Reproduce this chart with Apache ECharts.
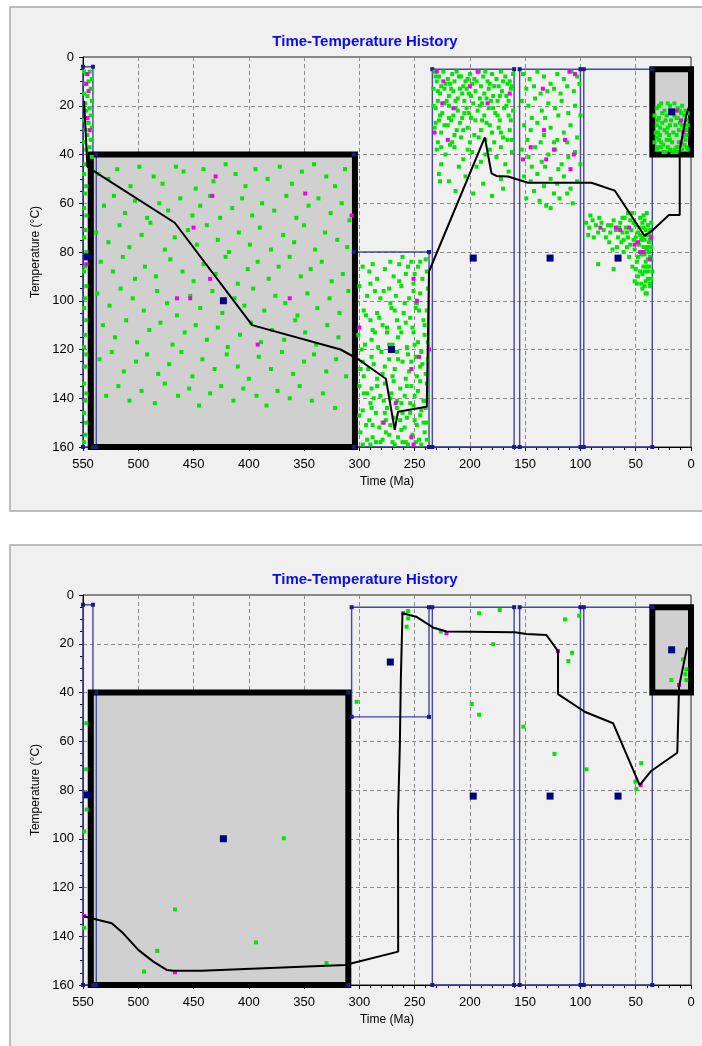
<!DOCTYPE html>
<html><head><meta charset="utf-8">
<script src="https://cdn.jsdelivr.net/npm/echarts@6/dist/echarts.min.js"></script>
<style>html,body{margin:0;padding:0;background:#fff}#c{width:702px;height:1046px}</style>
</head><body><div id="c"></div>
<script>
// ---------- shared ----------
const titleText = 'Time-Temperature History';
const xName = 'Time (Ma)';
const yName = 'Temperature (\u00B0C)';
const timeMin = 0, timeMax = 550, timeStep = 50;
const tempMin = 0, tempMax = 160, tempStep = 20;

// ---------- panel 1 ----------
// boxes: [tOld, tYoung, Ttop, Tbottom]
const p1GrayBoxes = [[543,304,40,160],[35,0,5,40]];
const p1BlueBoxes = [[550,541,4,160],[538,305,40,160],[305,237,80,160],[234,160,5,160],[155,100,5,160],[97,35,5,160]];
const p1Centers = [546,82, 423,100, 271,120, 197,82.5, 127.5,82.5, 66,82.5, 17.5,22.5];
const p1Path = [549,18, 546,45, 543,46, 467,68, 397,110, 317,120, 301,124, 276,132, 268,153, 265,145.5, 239,143.5, 237,88, 186.5,33, 180.5,47.7, 176,48.8, 165.5,49, 147.5,51.6, 90,51.6, 69,54.8, 42,73.4, 34.5,71, 20,64.8, 10.2,64.8, 10.2,38.2, 4.2,23.8, 1.5,20];
const p1GreenA = [549,6, 547,7, 544,6, 542,9, 548,11, 545,10, 543,13, 549,15, 546,16, 542,18, 548,19, 544,21, 547,22, 543,24, 549,26, 545,27, 542,29, 548,30, 546,32, 543,34, 549,35, 544,37, 547,38, 542,41, 548,44, 549,48, 547,53, 548,56, 549,62, 547,65, 548,71, 549,74, 547,80, 548,86, 549,88, 547,94, 548,99, 549,103, 547,108, 548,114, 549,119, 547,122, 548,127, 549,134, 547,138, 548,141, 549,146, 547,150, 548,155, 549,158];
const p1GreenB = [536,48, 527,50, 519,46, 507,53, 499,45, 486,49, 478,52, 466,45, 459,47, 448,54, 441,46, 432,51, 421,44, 412,48, 403,53, 394,46, 383,50, 372,45, 361,52, 352,47, 341,44, 330,49, 322,53, 313,46,
 531,61, 522,57, 512,64, 503,59, 492,66, 481,60, 473,63, 462,58, 451,65, 444,61, 435,57, 426,66, 415,62, 406,58, 397,65, 388,60, 377,63, 366,57, 357,66, 346,61, 337,58, 326,64, 316,60, 309,67,
 538,72, 527,76, 517,69, 508,78, 497,73, 489,68, 476,79, 467,74, 455,71, 447,77, 438,69, 428,75, 418,80, 409,72, 399,77, 390,70, 380,79, 369,73, 359,76, 350,69, 340,79, 331,72, 320,75, 311,78,
 534,84, 523,88, 514,82, 503,91, 494,86, 484,90, 471,83, 460,88, 450,92, 441,85, 430,89, 421,82, 410,93, 401,87, 392,84, 382,91, 373,86, 363,82, 353,90, 344,87, 334,84, 325,92, 315,89,
 537,97, 526,102, 516,95, 505,99, 495,104, 483,96, 474,101, 465,106, 453,98, 444,103, 433,96, 424,105, 413,99, 404,102, 396,95, 386,104, 376,98, 367,101, 356,106, 347,97, 338,103, 327,99, 318,105, 310,96,
 532,110, 521,115, 511,108, 501,117, 490,112, 480,109, 469,118, 458,113, 448,110, 438,116, 428,111, 419,119, 408,114, 398,109, 389,117, 379,112, 368,116, 358,108, 349,113, 339,118, 329,110, 319,115,
 535,124, 524,121, 513,129, 502,125, 492,122, 482,130, 472,126, 461,121, 451,131, 442,124, 431,128, 420,122, 410,127, 400,132, 391,123, 380,128, 370,121, 360,130, 350,125, 341,122, 330,129, 321,124, 312,131,
 529,139, 518,135, 508,141, 497,137, 485,142, 476,134, 464,139, 454,136, 445,143, 435,138, 425,135, 414,141, 405,136, 393,139, 384,143, 374,137, 363,140, 354,135, 343,141, 333,138, 322,144];
const p1GreenC = [240,83, 247,86, 253,84, 258,89, 264,85, 269,90, 277,87, 284,91, 291,88, 243,91, 250,89, 261,82, 297,86,
 238,95, 245,97, 251,93, 255,99, 262,94, 267,98, 273,95, 281,99, 286,96, 293,98, 300,94, 248,101, 259,101, 272,101,
 239,104, 242,108, 249,103, 254,107, 260,105, 266,108, 271,103, 279,110, 284,105, 290,108, 296,104, 252,111, 264,111, 275,111, 288,112, 241,110,
 241,114, 247,117, 251,113, 257,119, 265,115, 270,118, 275,113, 283,119, 289,116, 295,118, 301,114, 244,121, 256,122, 280,121, 266,121,
 238,124, 245,127, 249,123, 255,129, 261,125, 268,128, 273,124, 279,130, 287,126, 292,128, 297,125, 248,131, 258,132, 270,131, 284,132, 296,131, 240,130,
 239,134, 247,137, 253,135, 259,139, 263,136, 271,138, 277,134, 281,139, 289,136, 293,138, 300,135, 242,141, 254,142, 266,141, 278,141, 290,142, 238,139,
 240,144, 245,147, 251,143, 257,148, 261,146, 269,148, 275,144, 279,150, 285,146, 291,149, 297,145, 248,151, 259,152, 272,151, 282,152, 294,151, 242,150,
 241,154, 246,157, 252,155, 258,158, 265,156, 270,158, 276,154, 281,158, 288,156, 293,157, 299,154, 244,159, 256,159, 268,159, 279,157, 290,159, 262,153,
 245,84, 256,86, 272,84, 288,85, 239,88, 251,96, 264,92, 278,96, 290,93, 246,104, 258,109, 268,104, 282,107, 294,106, 238,117, 250,118, 262,113, 273,118, 286,113, 298,120,
 243,126, 253,125, 265,124, 277,127, 289,123, 299,128, 245,133, 257,135, 269,133, 284,135, 296,138, 240,141, 250,139, 262,142, 272,140, 287,140, 244,145, 254,146, 266,144, 277,146,
 289,144, 300,147, 239,150, 250,149, 263,149, 276,149, 288,151, 239,157, 249,158, 261,158, 273,155, 285,158, 297,159];
const p1GreenD = [232,6, 228,8, 224,6, 220,9, 216,7, 212,6, 208,8, 204,10, 200,7, 196,9, 192,6, 188,8, 184,10, 180,7, 176,9, 172,6, 168,8, 164,10, 230,10, 222,11, 214,10, 206,12, 198,11, 190,12, 182,11, 174,12, 166,11, 161,7,
 233,13, 227,15, 223,13, 219,16, 215,14, 211,17, 207,15, 203,13, 199,16, 195,14, 191,17, 187,15, 183,13, 179,16, 175,18, 171,14, 167,16, 163,13, 229,18, 221,18, 213,18, 205,18, 197,19, 189,19, 181,18,
 231,21, 225,23, 219,20, 215,24, 211,22, 203,21, 199,25, 193,22, 187,24, 183,21, 177,23, 173,26, 169,21, 165,24, 161,22, 228,26, 217,26, 207,25, 195,26, 185,27,
 232,29, 226,31, 220,28, 212,30, 208,33, 202,29, 196,32, 190,30, 186,34, 180,31, 174,29, 170,33, 164,30, 229,35, 216,35, 200,35, 178,35, 162,34,
 230,38, 222,40, 214,37, 206,42, 198,39, 190,43, 182,38, 176,41, 168,44, 162,39, 226,44, 210,45, 194,45,
 228,48, 219,51, 204,49, 188,52, 172,50, 165,47, 213,55, 197,56, 180,57, 170,54, 227,51,
 231,8, 226,12, 218,11, 210,8, 202,9, 194,10, 186,6, 178,12, 170,10, 162,12, 229,14, 217,13, 209,13, 201,15, 185,17, 173,16, 165,18, 233,20, 223,19, 213,21, 205,23, 191,20, 179,21, 167,20,
 227,24, 219,25, 209,27, 201,23, 189,26, 175,24, 163,26, 231,27, 223,28, 214,32, 206,30, 192,33, 182,28, 172,31, 166,34, 226,37, 218,36, 202,38, 186,40, 172,37];
const p1GreenE = [152,7, 146,9, 139,6, 133,8, 127,11, 121,7, 115,9, 108,6, 103,8, 149,13, 142,12, 136,15, 130,14, 124,13, 118,15, 112,12, 106,14, 101,11,
 153,18, 147,20, 141,17, 135,22, 129,19, 123,21, 117,18, 111,23, 105,20, 100,24, 144,25, 132,25, 120,24,
 151,28, 145,30, 139,27, 133,32, 127,29, 121,34, 115,31, 109,28, 103,33, 148,34, 136,35, 124,35, 112,35,
 153,38, 147,41, 141,37, 135,43, 129,40, 123,38, 117,44, 111,41, 105,39, 100,44, 144,45, 132,45, 120,46,
 151,49, 145,51, 139,48, 133,53, 127,50, 121,52, 115,49, 109,54, 103,51, 142,55, 124,56, 112,56,
 149,58, 137,59, 131,61, 119,58, 107,60, 127,62];
const p1GreenF = [95,68, 92,70, 89,67, 93,73, 86,69, 84,72, 81,68, 88,74, 79,71, 83,66, 77,74, 75,69, 91,65, 73,72, 70,67, 74,76, 71,79, 68,71, 66,74,
 64,68, 62,72, 60,66, 63,76, 59,70, 57,74, 55,67, 61,80, 58,78, 56,82, 54,71, 52,75, 53,64, 50,69, 51,79, 49,84, 48,72, 47,77, 46,66, 45,81, 44,74,
 43,70, 42,67, 41,78, 40,73, 39,69, 38,76, 37,82, 43,86, 41,84, 39,88, 38,80, 37,71, 42,75, 40,64, 39,91, 37,94, 38,86, 41,92, 36,78, 36,68, 44,89, 42,81, 40,79, 43,65, 39,83, 37,75,
 46,88, 48,90, 44,95, 40,97, 45,93, 50,87, 53,86, 84,85, 70,87, 51,92, 41,97, 37,93,
 47,70, 45,75, 43,78, 41,71, 40,86, 38,73, 36,83, 44,68, 42,88, 39,78, 46,73, 48,82, 50,74, 52,68, 55,77, 57,64, 35,88, 36,91, 42,94, 49,93, 58,72, 61,75, 65,70, 62,66, 67,78, 72,69];
const p1GreenG = [31,21, 27,19, 24,22, 19,20, 15,19, 12,21, 8,20, 5,22,
 33,24, 29,25, 22,24, 17,23, 13,25, 9,23, 4,26,
 31,28, 26,27, 21,29, 18,26, 14,28, 10,27, 6,29, 3,28,
 32,31, 28,32, 24,30, 20,32, 16,31, 11,30, 7,33,
 33,35, 29,34, 25,36, 22,34, 17,35, 13,37, 9,35, 5,34,
 31,38, 27,37, 23,39, 19,38, 15,38, 12,39, 8,38, 4,37,
 29,20, 21,19, 10,22, 26,23, 15,24, 6,24, 30,26, 23,26, 12,25, 3,23, 28,29, 19,28, 8,28, 4,30, 30,31, 22,31, 13,32, 4,32,
 31,33, 27,35, 19,34, 11,35, 6,36, 30,37, 21,37, 14,39, 10,37, 3,38, 25,39, 17,39];
const p1Magenta = [546,7, 545,14, 547,11, 546,25, 544,30, 547,85,
 430,49, 433,57, 450,70, 435,91, 465,99, 453,99, 349,56, 307,65, 363,99, 392,118,
 251,91, 248,100, 237,120, 246,123, 253,128, 267,142, 278,150, 253,156, 251,159, 300,111,
 230,6, 193,6, 224,10, 200,12, 225,19, 184,19, 215,21, 164,15, 232,31, 220,34,
 134,13, 110,6, 105,7, 133,30, 114,34, 124,38, 131,42, 145,37, 152,42, 106,40, 109,46,
 82,70, 68,70, 64,71, 56,70, 51,77, 48,76, 43,80, 37,83, 36,74, 46,80,
 13,22, 9,26, 7,31, 9,35];

// ---------- panel 2 ----------
const p2GrayBoxes = [[543,310,40,160],[35,0,5,40]];
const p2BlueBoxes = [[550,541,4,160],[538,310,40,160],[307,237,5,50],[234,160,5,160],[155,100,5,160],[97,35,5,160]];
const p2Centers = [546,82, 423,100, 272,27.5, 197,82.5, 127.5,82.5, 66,82.5, 17.5,22.5];
const p2Path = [550,131.7, 536,133.3, 524,134.7, 513.6,138.8, 500,145.6, 486.4,150.4, 474.3,153.8, 468.3,154.2, 442.7,154.2, 313,151.8, 264.9,146.3, 265,89.6, 263.4,62.2, 262.5,34.9, 261,7.5, 248.6,8.9, 233.5,13.3, 221.2,15, 159.4,15.3, 148.9,16, 130.8,16.4, 120.3,23, 120.3,40.7, 96.2,47.9, 70.5,52.6, 46.4,78, 36,72.2, 12.4,64.7, 10.8,37.6, 3.6,21.5];
const p2Green = [547,52.6, 547,71.5, 546.7,88, 548.8,97, 548.8,136.5, 466.8,129, 482.8,146, 494.8,154.5, 393.6,142.5, 368.3,99.8, 329.7,151, 302.5,43.8, 255.9,6.6, 255.9,9.6, 257.3,13, 226.3,15, 191.7,7.5, 173,6.2, 179,20.2, 198.3,44.7, 191.7,49.1, 151.6,54, 114,10, 101.2,8.5, 107.6,23.7, 110.9,27.1, 123.5,65.2, 94.6,71.5, 45,69, 50.3,76.6, 49.4,79.6, 7.2,26.4, 4.2,30.5, 5.1,32.5, 17.8,34.9, 4.2,34.9];
const p2Magenta = [260.4,7.5, 221.2,15.7, 120.3,23, 45.5,78, 10.8,36.9, 548.8,131.7, 466.8,154.8];

// ---------- build ----------
function pairs(a){const r=[];for(let i=0;i<a.length;i+=2)r.push([a[i],a[i+1]]);return r;}
function corners(boxes){const r=[];boxes.forEach(b=>{r.push([b[0],b[2]],[b[1],b[2]],[b[0],b[3]],[b[1],b[3]]);});return r;}
function boxRender(kind){
  return function(params, api){
    const p1 = api.coord([api.value(0), api.value(2)]);
    const p2 = api.coord([api.value(1), api.value(3)]);
    const shape = {x:Math.min(p1[0],p2[0]), y:Math.min(p1[1],p2[1]), width:Math.abs(p2[0]-p1[0]), height:Math.abs(p2[1]-p1[1])};
    let style;
    if(kind==='fill') style = {fill:'#d0d0d0', stroke:null};
    else if(kind==='black') style = {fill:null, stroke:'#000', lineWidth:6};
    else style = {fill:null, stroke:'#4646a4', lineWidth:1.4};
    return {type:'rect', shape:shape, style:style};
  };
}

const grids=[], xAxes=[], yAxes=[], series=[], titles=[];
const fontFam = 'Liberation Sans, Arial';
function addPanel(idx, top, d){
  grids.push({left:83, top:top, width:608, height:390, show:true, borderColor:'#222', borderWidth:1, backgroundColor:'transparent'});
  xAxes.push({gridIndex:idx, type:'value', min:timeMin, max:timeMax, interval:timeStep, inverse:true,
    name:xName, nameLocation:'middle', nameGap:29, nameTextStyle:{fontSize:12, color:'#000', fontFamily:fontFam},
    axisLine:{show:true, onZero:false, lineStyle:{color:'#000', width:1}},
    axisTick:{show:true, length:4, lineStyle:{color:'#000'}},
    minorTick:{show:true, splitNumber:5, length:3, lineStyle:{color:'#000'}},
    axisLabel:{fontSize:13, color:'#000', margin:11, fontFamily:fontFam},
    splitLine:{show:true, lineStyle:{color:'#8a8a8a', width:1, type:[4,3]}}});
  yAxes.push({gridIndex:idx, type:'value', min:tempMin, max:tempMax, interval:tempStep, inverse:true,
    name:yName, nameLocation:'middle', nameGap:31, nameRotate:90, nameTextStyle:{fontSize:12, color:'#000', fontFamily:fontFam},
    axisLine:{show:true, onZero:false, lineStyle:{color:'#000', width:1}},
    axisTick:{show:true, length:4, lineStyle:{color:'#000'}},
    minorTick:{show:true, splitNumber:4, length:3, lineStyle:{color:'#000'}},
    axisLabel:{fontSize:13, color:'#000', margin:9, fontFamily:fontFam},
    splitLine:{show:true, lineStyle:{color:'#8a8a8a', width:1, type:[4,3]}}});
  const base = {xAxisIndex:idx, yAxisIndex:idx, silent:true, animation:false};
  series.push(Object.assign({type:'custom', renderItem:boxRender('fill'), encode:{x:[0,1], y:[2,3]}, data:d.gray, clip:false}, base));
  series.push(Object.assign({type:'custom', renderItem:boxRender('blue'), encode:{x:[0,1], y:[2,3]}, data:d.blue, clip:false}, base));
  series.push(Object.assign({type:'scatter', symbol:'rect', symbolSize:4, itemStyle:{color:'#1a1a8a', opacity:1}, data:corners(d.blue)}, base));
  series.push(Object.assign({type:'scatter', symbol:'rect', symbolSize:4, itemStyle:{color:'#00e600', opacity:1}, data:pairs(d.green)}, base));
  series.push(Object.assign({type:'scatter', symbol:'rect', symbolSize:4, itemStyle:{color:'#f000f0', opacity:1}, data:pairs(d.magenta)}, base));
  series.push(Object.assign({type:'custom', renderItem:boxRender('black'), encode:{x:[0,1], y:[2,3]}, data:d.gray, clip:false}, base));
  series.push(Object.assign({type:'scatter', symbol:'rect', symbolSize:7, itemStyle:{color:'#000080', opacity:1}, data:pairs(d.centers)}, base));
  series.push(Object.assign({type:'line', symbol:'none', lineStyle:{color:'#000', width:2}, data:pairs(d.path)}, base));
  titles.push({text:titleText, left:360, top:top-28, textAlign:'center', textStyle:{color:'#0a0af0', fontSize:15, fontWeight:'bold', fontFamily:fontFam}});
}
addPanel(0, 57, {gray:p1GrayBoxes, blue:p1BlueBoxes, centers:p1Centers, path:p1Path,
  green:[].concat(p1GreenA,p1GreenB,p1GreenC,p1GreenD,p1GreenE,p1GreenF,p1GreenG), magenta:p1Magenta});
addPanel(1, 595, {gray:p2GrayBoxes, blue:p2BlueBoxes, centers:p2Centers, path:p2Path, green:p2Green, magenta:p2Magenta});

const chart = echarts.init(document.getElementById('c'), null, {renderer:'canvas'});
chart.setOption({
  backgroundColor:'#ffffff',
  animation:false,
  title:titles,
  graphic:[
    {type:'rect', z:-10, shape:{x:10, y:7, width:702, height:504}, style:{fill:'#f0f0f0', stroke:'#a8a8a8', lineWidth:1.5}, silent:true},
    {type:'rect', z:-10, shape:{x:10, y:545, width:702, height:510}, style:{fill:'#f0f0f0', stroke:'#a8a8a8', lineWidth:1.5}, silent:true}
  ],
  grid:grids, xAxis:xAxes, yAxis:yAxes, series:series
});
</script></body></html>
